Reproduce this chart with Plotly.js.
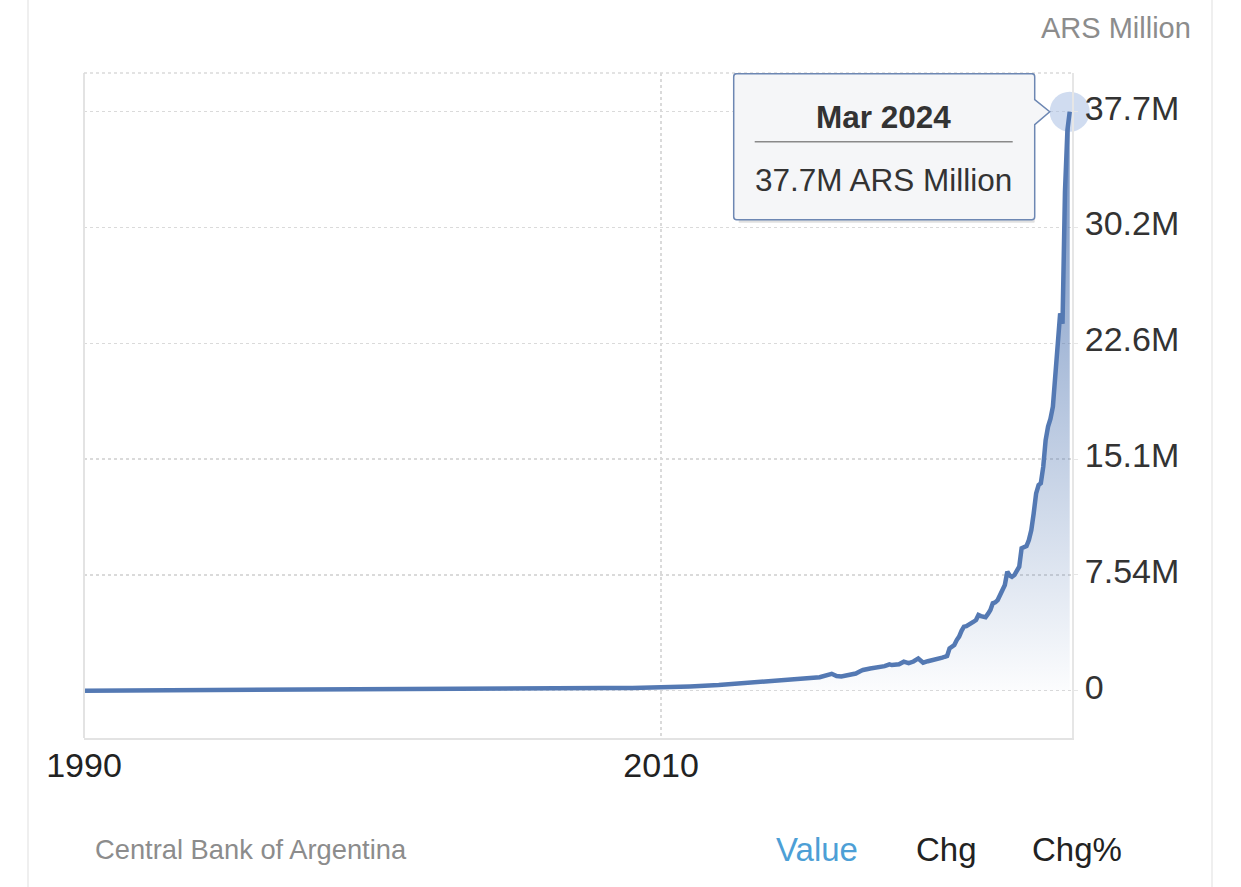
<!DOCTYPE html>
<html>
<head>
<meta charset="utf-8">
<script src="https://cdn.plot.ly/plotly-3.0.1.min.js"></script>
<style>
  html, body { margin: 0; padding: 0; background: #fff; }
  #chart { width: 1241px; height: 887px; }
  .edge { position: absolute; top: 0; width: 2px; height: 887px; background: #efefef; }
</style>
</head>
<body>
<div class="edge" style="left:27px"></div>
<div class="edge" style="left:1211px"></div>
<div id="chart"></div>
<script>
// monthly-ish readings, values in millions of "ARS Million"
const dates = [
    '1990-01-01', '1991-01-01', '1992-01-01', '1993-01-01', '1994-01-01',
    '1995-01-01', '1996-01-01', '1997-01-01', '1998-01-01', '1999-01-01',
    '2000-01-01', '2001-01-01', '2002-01-01', '2003-01-01', '2004-01-01',
    '2005-01-01', '2006-01-01', '2007-01-01', '2008-01-01', '2009-01-01',
    '2010-01-01', '2011-01-01', '2012-01-01', '2013-01-01', '2013-07-01',
    '2014-01-01', '2014-07-01', '2015-01-01', '2015-07-01', '2015-12-01',
    '2016-02-01', '2016-04-01', '2016-07-01', '2016-10-01', '2016-12-01',
    '2017-01-01', '2017-04-01', '2017-07-01', '2017-10-01', '2017-12-01',
    '2018-01-01', '2018-04-01', '2018-06-01', '2018-08-01', '2018-10-01',
    '2018-12-01', '2019-02-01', '2019-04-01', '2019-07-01', '2019-10-01',
    '2019-11-01', '2019-12-01', '2020-01-01', '2020-02-01', '2020-03-01',
    '2020-04-01', '2020-05-01', '2020-06-01', '2020-07-01', '2020-08-01',
    '2020-09-01', '2020-10-01', '2020-11-01', '2020-12-01', '2021-01-01',
    '2021-02-01', '2021-03-01', '2021-04-01', '2021-05-01', '2021-06-01',
    '2021-07-01', '2021-08-01', '2021-09-01', '2021-10-01', '2021-11-01',
    '2021-12-01', '2022-01-01', '2022-02-01', '2022-03-01', '2022-04-01',
    '2022-05-01', '2022-06-01', '2022-07-01', '2022-08-01', '2022-09-01',
    '2022-10-01', '2022-11-01', '2022-12-01', '2023-01-01', '2023-02-01',
    '2023-03-01', '2023-04-01', '2023-05-01', '2023-06-01', '2023-07-01',
    '2023-08-01', '2023-09-01', '2023-10-01', '2023-11-01', '2023-12-01',
    '2024-01-01', '2024-02-01', '2024-03-01'
];
const valuesM = [
    0.002, 0.008, 0.015, 0.025, 0.035,
    0.04, 0.045, 0.055, 0.06, 0.065,
    0.07, 0.07, 0.06, 0.08, 0.095,
    0.11, 0.13, 0.15, 0.17, 0.18,
    0.2, 0.28, 0.37, 0.5, 0.55,
    0.66, 0.7, 0.8, 0.88, 1.1,
    0.95, 0.92, 1.0, 1.12, 1.28,
    1.35, 1.45, 1.52, 1.6, 1.72,
    1.67, 1.72, 1.89, 1.8, 1.9,
    2.1, 1.82, 1.92, 2.0, 2.15,
    2.21, 2.26, 2.76, 2.85, 2.97,
    3.3, 3.52, 3.9, 4.17, 4.2,
    4.28, 4.35, 4.49, 4.6, 4.93,
    4.86, 4.8, 4.78, 5.0, 5.25,
    5.69, 5.75, 5.9, 6.2, 6.56,
    6.88, 7.75, 7.5, 7.42, 7.53,
    7.8, 8.07, 9.27, 9.35, 9.42,
    9.81, 10.46, 11.55, 12.85, 13.39,
    13.5, 14.58, 16.3, 17.2, 17.7,
    18.49, 20.4, 22.6, 24.57, 23.9,
    32.5, 36.5, 37.7
];
const yTickVals = [0, 7.54, 15.08, 22.62, 30.16, 37.7];
const yTickText = ['0', '7.54M', '15.1M', '22.6M', '30.2M', '37.7M'];
const xTickVals = ['1990-01-01', '2010-01-01'];
const xTickText = ['1990', '2010'];
const unit = 'ARS Million';

const monthNames = ['Jan', 'Feb', 'Mar', 'Apr', 'May', 'Jun', 'Jul', 'Aug', 'Sep', 'Oct', 'Nov', 'Dec'];
const lastDate = dates[dates.length - 1];
const lastVal = valuesM[valuesM.length - 1];
const lastLabel = monthNames[parseInt(lastDate.slice(5, 7)) - 1] + ' ' + lastDate.slice(0, 4);

const font = 'Liberation Sans, Arial, Helvetica, sans-serif';
const lineColor = '#5479b3';

const halo = {
    x: [lastDate], y: [lastVal],
    type: 'scatter', mode: 'markers',
    marker: { size: 40, color: 'rgba(170,192,228,0.55)' },
    cliponaxis: false,
    hoverinfo: 'skip'
};

const series = {
    x: dates, y: valuesM,
    type: 'scatter', mode: 'lines',
    line: { color: lineColor, width: 4.5 },
    fill: 'tozeroy',
    fillgradient: {
        type: 'vertical',
        start: 0,
        stop: lastVal,
        colorscale: [[0, 'rgba(84,121,179,0.02)'], [1, 'rgba(84,121,179,0.85)']]
    }
};

// tooltip callout, pixel offsets from the last point
const boxPath = 'M -333,38 L -38,38 Q -35,38 -35,35 L -35,12 L -20,0 L -35,-13 L -35,-105 ' +
    'Q -35,-108 -38,-108 L -333,-108 Q -336,-108 -336,-105 L -336,35 Q -336,38 -333,38 Z';
const shadowPath = 'M -331,36 L -35,36 L -35,-110 Q -35,-111 -36,-111 L -331,-111 Z';

const layout = {
    width: 1241, height: 887,
    margin: { l: 84, r: 169, t: 73, b: 149 },
    paper_bgcolor: 'rgba(0,0,0,0)',
    plot_bgcolor: '#fff',
    showlegend: false,
    font: { family: font },
    xaxis: {
        type: 'date',
        range: ['1990-01-01', '2024-03-30'],
        tickvals: xTickVals, ticktext: xTickText,
        tickfont: { size: 34, color: '#222' },
        ticklabelstandoff: -4,
        showgrid: true, gridcolor: '#dadada', griddash: 'dot', gridwidth: 1.5,
        showline: true, linecolor: '#e3e3e3', linewidth: 2,
        zeroline: false, ticks: ''
    },
    yaxis: {
        side: 'right',
        range: [-3.08, 40.22],
        tickvals: yTickVals, ticktext: yTickText,
        tickfont: { size: 34, color: '#333' },
        ticklabelshift: -4,
        showgrid: true, gridcolor: '#dadada', griddash: 'dot', gridwidth: 1.5,
        showline: true, linecolor: '#e6e6e6', linewidth: 2,
        ticks: 'outside', ticklen: 4, tickcolor: '#e6e6e6',
        zeroline: false
    },
    shapes: [
        { type: 'line', xref: 'paper', yref: 'paper', x0: 0, x1: 0, y0: 0, y1: 1,
          line: { color: '#e3e3e3', width: 2 } },
        { type: 'line', xref: 'paper', yref: 'paper', x0: 0, x1: 1, y0: 1, y1: 1,
          line: { color: '#dadada', width: 1.5, dash: 'dot' } },
        { type: 'path', xref: 'x', yref: 'y', xsizemode: 'pixel', ysizemode: 'pixel',
          xanchor: lastDate, yanchor: lastVal, path: shadowPath,
          fillcolor: 'rgba(0,0,0,0.12)', line: { width: 0 }, layer: 'above' },
        { type: 'path', xref: 'x', yref: 'y', xsizemode: 'pixel', ysizemode: 'pixel',
          xanchor: lastDate, yanchor: lastVal, path: boxPath,
          fillcolor: '#f5f6f8', line: { color: '#6d87b3', width: 1.5 }, layer: 'above' },
        { type: 'line', xref: 'x', yref: 'y', xsizemode: 'pixel', ysizemode: 'pixel',
          xanchor: lastDate, yanchor: lastVal, x0: -315, x1: -57, y0: -30, y1: -30,
          line: { color: '#8a8a8a', width: 1.5 }, layer: 'above' }
    ],
    annotations: [
        { xref: 'x', yref: 'y', x: lastDate, y: lastVal, xshift: -186, yshift: -5,
          text: '<b>' + lastLabel + '</b>', showarrow: false,
          font: { size: 31.5, color: '#333' } },
        { xref: 'x', yref: 'y', x: lastDate, y: lastVal, xshift: -186, yshift: -68,
          text: lastVal.toFixed(1) + 'M ' + unit, showarrow: false,
          font: { size: 31.5, color: '#333' } },
        { xref: 'paper', yref: 'paper', x: 1.1225, y: 1.067, xanchor: 'right', yanchor: 'middle',
          text: unit, showarrow: false, font: { size: 29, color: '#8c8c8c' } },
        { xref: 'paper', yref: 'paper', x: 0.0091, y: -0.168, xanchor: 'left', yanchor: 'middle',
          text: 'Central Bank of Argentina', showarrow: false, font: { size: 27.3, color: '#8c8c8c' } },
        { xref: 'paper', yref: 'paper', x: 0.742, y: -0.168, xanchor: 'center', yanchor: 'middle',
          text: 'Value', showarrow: false, font: { size: 33, color: '#4d9fd6' } },
        { xref: 'paper', yref: 'paper', x: 0.873, y: -0.168, xanchor: 'center', yanchor: 'middle',
          text: 'Chg', showarrow: false, font: { size: 33, color: '#222' } },
        { xref: 'paper', yref: 'paper', x: 1.005, y: -0.168, xanchor: 'center', yanchor: 'middle',
          text: 'Chg%', showarrow: false, font: { size: 33, color: '#222' } }
    ]
};

Plotly.newPlot('chart', [halo, series], layout, { displayModeBar: false, staticPlot: true });
</script>
</body>
</html>
